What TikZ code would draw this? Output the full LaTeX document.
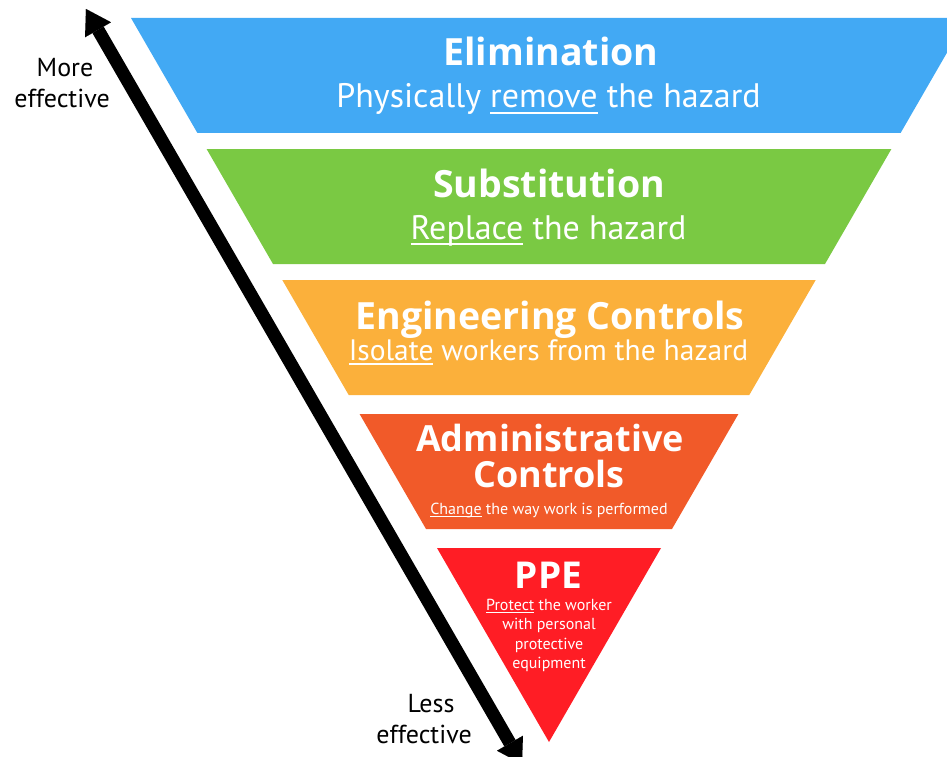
\documentclass[tikz,border=0pt]{standalone}
\usepackage{fontspec}
\setmainfont{PT Sans}
\newfontfamily\ttlfont{Open Sans}
\usetikzlibrary{arrows.meta}
\definecolor{elimblue}{RGB}{66,169,244}
\definecolor{subgreen}{RGB}{122,201,67}
\definecolor{engorange}{RGB}{251,176,59}
\definecolor{admorange}{RGB}{241,90,41}
\definecolor{ppered}{RGB}{255,29,37}
\newcommand\uln[1]{\setbox0\hbox{#1}\rlap{\rule[-0.17em]{\wd0}{0.06em}}\box0\relax}
\newcommand\fs[1]{\fontsize{#1}{#1}\selectfont}
\tikzset{
  lbl/.style={anchor=base, inner sep=0pt, text=white},
  ttl/.style={lbl, font=\ttlfont\bfseries\fs{#1}},
  side/.style={anchor=base, inner sep=0pt, text=black, font=\fs{26}},
  effarrow/.style={line width=13pt, {Triangle[length=24pt,width=30pt,line width=0.01pt]}-{Triangle[length=24pt,width=30pt,line width=0.01pt]}}
}
\begin{document}
\begin{tikzpicture}[x=1pt,y=-1pt]
\useasboundingbox (0,0) rectangle (947,757);
% bands of the inverted triangle
\fill[elimblue]  (131,18) -- (967,18) -- (900.6,133) -- (197.4,133) -- cycle;
\fill[subgreen]  (206.6,149) -- (891.4,149) -- (825,264) -- (273,264) -- cycle;
\fill[engorange] (282.3,280) -- (815.7,280) -- (749.3,395) -- (348.7,395) -- cycle;
\fill[admorange] (359.6,414) -- (738.4,414) -- (672,529) -- (426,529) -- cycle;
\fill[ppered]    (437,548) -- (661,548) -- (549,742) -- cycle;
% arrow
\coordinate (top) at (86,9);
\coordinate (bot) at (522,764);
\draw[effarrow] (top) -- (bot);
% texts
\node[ttl=37.5] (elim) at (551,66) {Elimination};
\node[lbl, font=\fs{34}] (elims) at (548.5,108) {Physically \uln{remove} the hazard};
\node[ttl=37.5] (subs) at (549,197) {Substitution};
\node[lbl, font=\fs{34}] (subss) at (548.5,239) {\uln{Replace} the hazard};
\node[ttl=37.5] (eng) at (550,329) {Engineering Controls};
\node[lbl, font=\fs{29.5}] (engs) at (548.5,360) {\uln{Isolate} workers from the hazard};
\node[ttl=36] (adm1) at (550,451) {Administrative};
\node[ttl=36] (adm2) at (549,487) {Controls};
\node[lbl, font=\fs{16}] (adms) at (549,514) {\uln{Change} the way work is performed};
\node[ttl=37] (ppe) at (548.5,588) {PPE};
\node[lbl, font=\fs{16}] (ppe1) at (549,610) {\uln{Protect} the worker};
\node[lbl, font=\fs{16}] (ppe2) at (549,629.5) {with personal};
\node[lbl, font=\fs{16}] (ppe3) at (549,649) {protective};
\node[lbl, font=\fs{16}] (ppe4) at (549,668.5) {equipment};
\node[side] (more) at (65,77) {More};
\node[side] (moree) at (62,108) {effective};
\node[side] (less) at (431,712) {Less};
\node[side] (lesse) at (424,743) {effective};
\end{tikzpicture}
\end{document}
